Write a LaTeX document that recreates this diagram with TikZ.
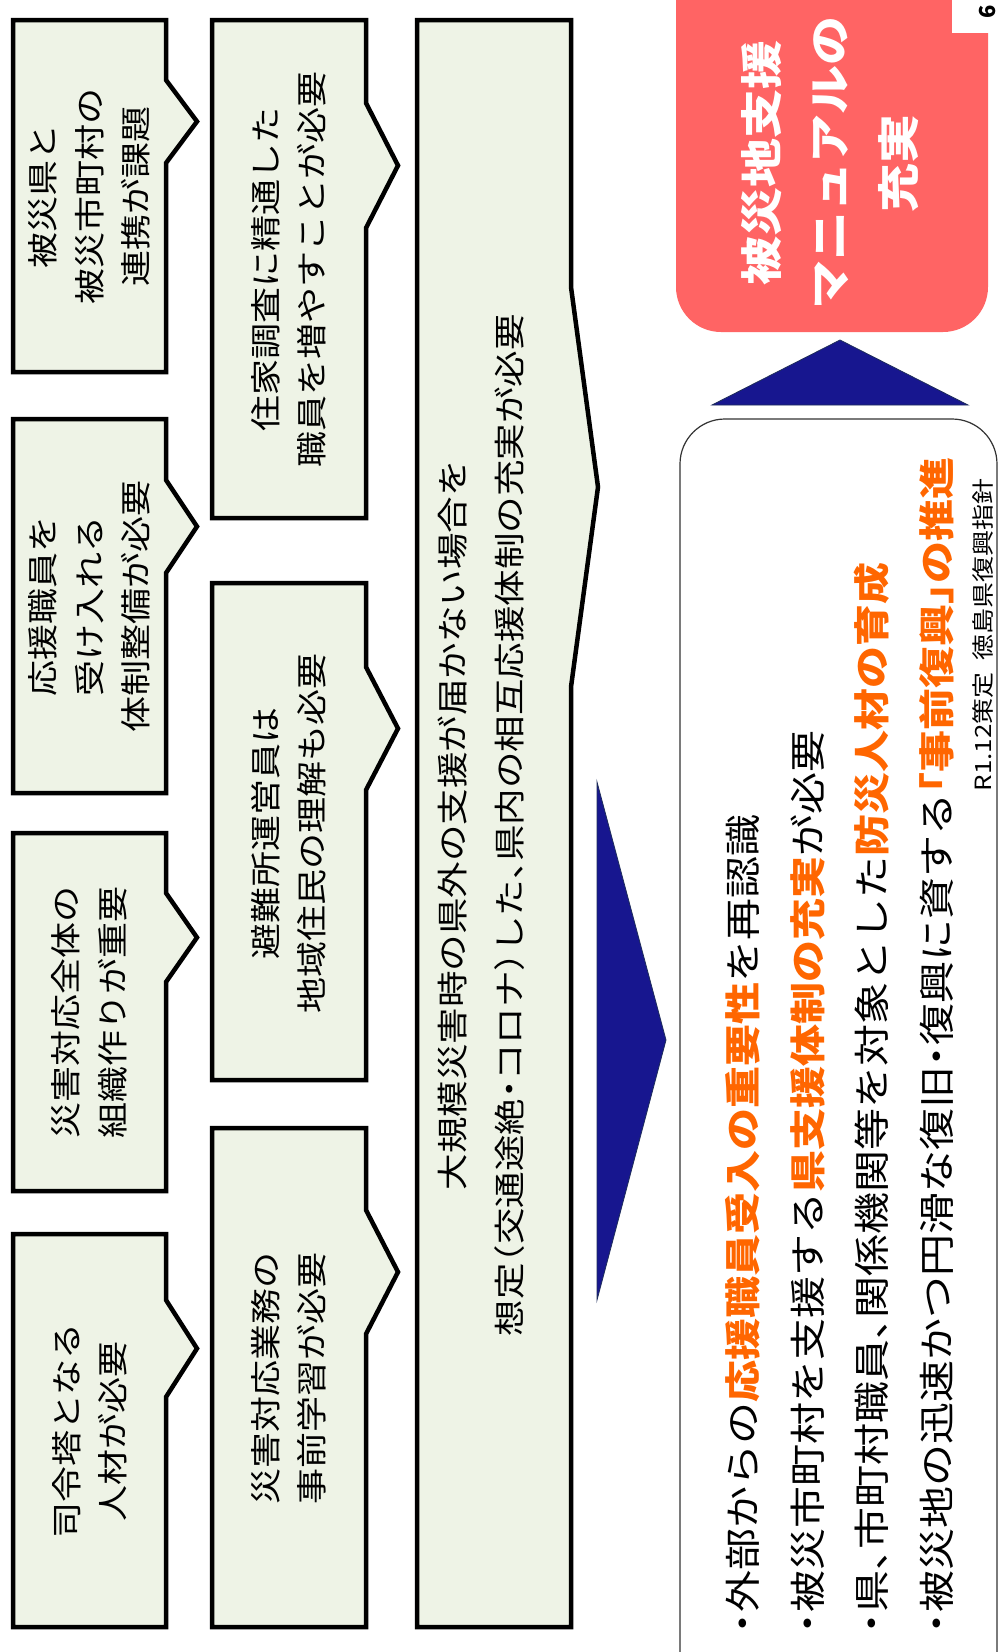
\documentclass[tikz,border=0pt]{standalone}
\usepackage{fontspec}
\setmainfont{Noto Sans CJK JP}
\definecolor{boxfill}{RGB}{238,243,230}
\definecolor{navy}{RGB}{23,22,143}
\definecolor{navyedge}{RGB}{30,45,90}
\definecolor{salmon}{RGB}{255,100,100}
\definecolor{orng}{RGB}{255,102,0}
\newcommand\chevbox[7]{\draw[cbox] (#1,#4) -- (#2,#4) -- (#2,#6) -- (#3,{(#6+#7)/2}) -- (#2,#7) -- (#2,#5) -- (#1,#5) -- cycle;}
\newcommand\hdot{\makebox[0.5em][c]{・}}
\newcommand\hcomma{\makebox[0.5em][l]{、}}
\newcommand\hlb{\makebox[0.5em][r]{「}}
\newcommand\hrb{\makebox[0.5em][l]{」}}
\newcommand\hlp{\makebox[0.5em][r]{（}}
\newcommand\hrp{\makebox[0.5em][l]{）}}
\begin{document}
\begin{tikzpicture}[x=1pt,y=-1pt,
  cbox/.style={draw=black, line width=4.5pt, fill=boxfill, line join=miter},
  btxt/.style={rotate=90, yscale=0.86, align=center, inner sep=0pt, font=\fontsize{36}{54}\selectfont},
  atxt/.style={rotate=90, yscale=0.86, align=center, inner sep=0pt, font=\fontsize{36.5}{66}\selectfont},
  ltxt/.style={rotate=90, yscale=0.86, anchor=west, inner sep=0pt, font=\fontsize{42}{48}\selectfont},
  rtxt/.style={rotate=90, yscale=0.86, align=center, inner sep=0pt, text=white, font=\fontsize{49}{80}\selectfont\bfseries}]
\useasboundingbox (0,0) rectangle (998,1652);
\clip (0,0) rectangle (998,1652);
\fill[white] (0,0) rectangle (998,1652);

% row 1 chevron boxes
\chevbox{13}{166}{197}{20}{372}{80}{163}
\chevbox{13}{166}{197}{419}{793}{480}{573}
\chevbox{13}{166}{197}{833}{1191}{893}{982}
\chevbox{13}{166}{197}{1234}{1627}{1300}{1397}
% row 2 chevron boxes
\chevbox{212}{366}{398}{20}{518}{103}{228}
\chevbox{212}{366}{398}{583}{1080}{667}{790}
\chevbox{212}{366}{398}{1128}{1627}{1210}{1334}

\node[btxt] (a1) at (89.5,196) {被災県と\\被災市町村の\\連携が課題};
\node[btxt] (a2) at (89.5,606) {応援職員を\\受け入れる\\体制整備が必要};
\node[btxt] (a3) at (89.5,1012) {災害対応全体の\\組織作りが重要};
\node[btxt] (a4) at (89.5,1431) {司令塔となる\\人材が必要};
\node[btxt] (b1) at (289,269) {住家調査に精通した\\職員を増やすことが必要};
\node[btxt] (b2) at (289,833) {避難所運営員は\\地域住民の理解も必要};
\node[btxt] (b3) at (289,1378) {災害対応業務の\\事前学習が必要};

% big arrow
\draw[cbox] (417,20) -- (571,20) -- (571,287) -- (598,487) -- (571,687) -- (571,1627) -- (417,1627) -- cycle;
\node[atxt] (c1) at (481,825) {大規模災害時の県外の支援が届かない場合を\\想定\hlp 交通途絶\hdot コロナ\hrp した\hcomma 県内の相互応援体制の充実が必要};

% navy triangles
\fill[navy, draw=navyedge, line width=0.8pt, line join=miter] (597,782) -- (666,1040) -- (597,1300) -- cycle;
\fill[navy, draw=navyedge, line width=0.8pt, line join=miter] (712,405) -- (840,340) -- (968,405) -- cycle;

% bullet box
\draw[black!80, line width=1.2pt, rounded corners=45pt] (680,419) rectangle (997,1700);
\node[ltxt] (l1) at (743,1634) {\hdot 外部からの{\bfseries\color{orng}応援職員受入の重要性}を再認識};
\node[ltxt] (l2) at (808,1634) {\hdot 被災市町村を支援する{\bfseries\color{orng}県支援体制の充実}が必要};
\node[ltxt] (l3) at (872,1634) {\hdot 県\hcomma 市町村職員\hcomma 関係機関等を対象とした{\bfseries\color{orng}防災人材の育成}};
\node[ltxt] (l4) at (937,1634) {\hdot 被災地の迅速かつ円滑な復旧\hdot 復興に資する{\bfseries\color{orng}\hlb 事前復興\hrb の推進}};

% red box
\fill[salmon, rounded corners=45pt] (676,-60) rectangle (988,332);
\fill[white] (952,-1) rectangle (999,33);
\node[rtxt] (r1) at (830,163) {被災地支援\\マニュアルの\\充実};

% footnote and page number
\node[rotate=90, yscale=0.86, inner sep=0pt, font=\fontsize{26}{30}\selectfont] (fn) at (983,635) {R1.12策定\ \ 徳島県復興指針};
\node[rotate=90, inner sep=0pt, font=\fontsize{22}{24}\selectfont\bfseries] (pg) at (988,12) {6};
\end{tikzpicture}
\end{document}
